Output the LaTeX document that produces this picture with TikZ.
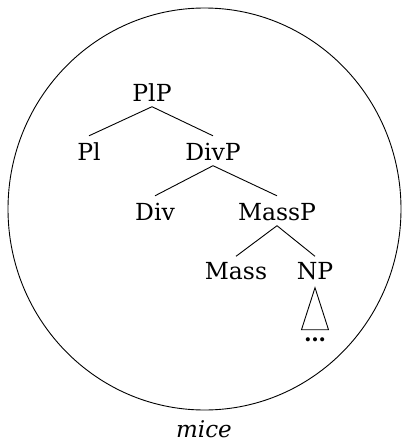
\documentclass[tikz,border=0pt]{standalone}
\usepackage{fontspec}
\setmainfont{DejaVu Serif}
\begin{document}
\begin{tikzpicture}[x=1pt,y=-1pt,
  lbl/.style={inner sep=0pt, anchor=base, text height=17pt, text depth=0pt,
    font=\fontsize{23.5}{28}\selectfont},
  edge/.style={line width=0.9pt}]
\useasboundingbox (0,0) rectangle (402,442);
\draw[line width=0.9pt] (204.5,209) ellipse [x radius=196.5pt, y radius=201pt];
\node[lbl] (plp) at (152,101) {PlP};
\node[lbl] (pl) at (89,160) {Pl};
\node[lbl] (divp) at (213,160) {DivP};
\node[lbl] (div) at (155,220) {Div};
\node[lbl] (massp) at (277,220) {MassP};
\node[lbl] (mass) at (236,279.5) {Mass};
\node[lbl] (np) at (315,279.5) {NP};
\node[inner sep=0pt, anchor=base, font=\fontsize{22}{26}\selectfont\bfseries] (dots) at (315,341) {…};
\node[inner sep=0pt, anchor=base, font=\fontsize{23}{27}\selectfont\itshape] (mice) at (204,437.5) {mice};
\draw[edge] ([yshift=-5.5pt]plp.south) -- ([yshift=7pt]pl.north);
\draw[edge] ([yshift=-5.5pt]plp.south) -- ([yshift=7pt]divp.north);
\draw[edge] ([yshift=-5.5pt]divp.south) -- ([yshift=7pt]div.north);
\draw[edge] ([yshift=-5.5pt]divp.south) -- ([yshift=7pt]massp.north);
\draw[edge] ([yshift=-5.5pt]massp.south) -- ([yshift=6pt]mass.north);
\draw[edge] ([yshift=-5.5pt]massp.south) -- ([yshift=6pt]np.north);
\draw[edge] ([yshift=-8pt]np.south) -- ++(-13.5,42) -- ++(27,0) -- cycle;
\end{tikzpicture}
\end{document}
